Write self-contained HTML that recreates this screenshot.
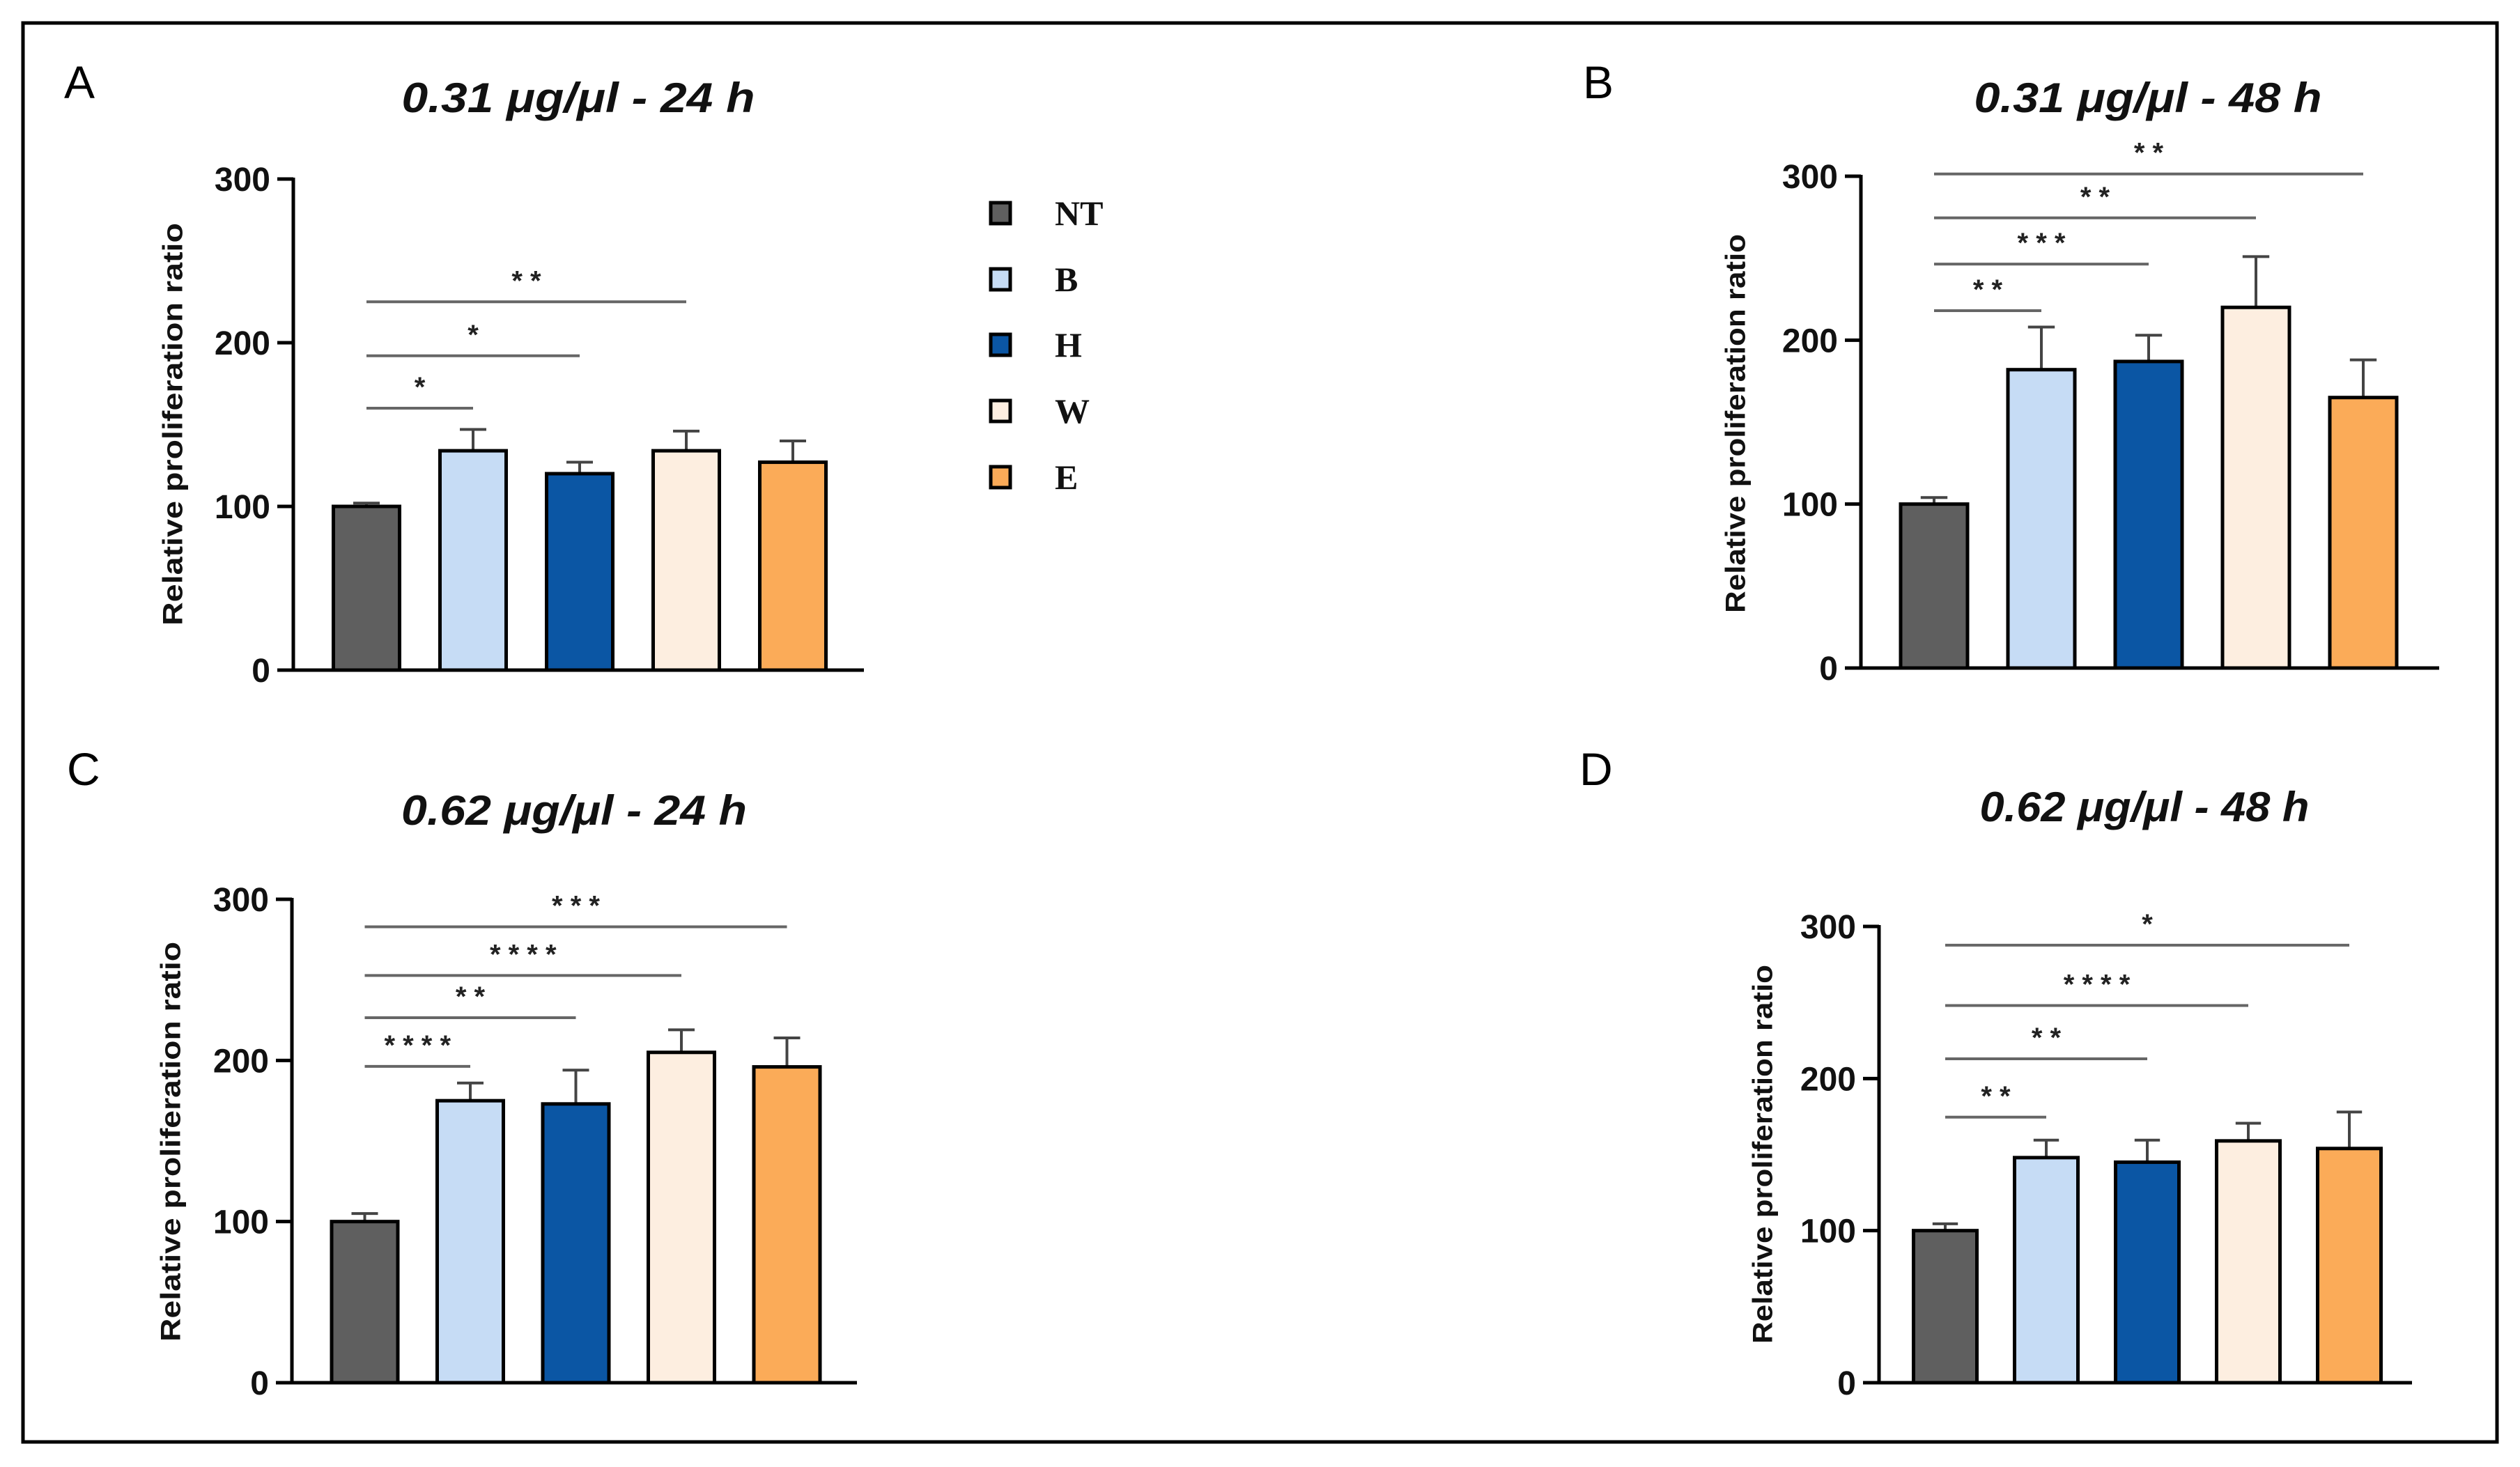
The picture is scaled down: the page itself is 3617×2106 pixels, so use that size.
<!DOCTYPE html>
<html><head><meta charset="utf-8"><style>
html,body{margin:0;padding:0;background:#fff;}
svg{display:block;}
</style></head><body>
<svg id="fig" xmlns="http://www.w3.org/2000/svg" width="3617" height="2106" viewBox="0 0 3617 2106">
<rect x="33" y="33" width="3551" height="2037" fill="#fff" stroke="#000" stroke-width="5"/>
<g id="legend"></g>
</svg>
<script>
const categories = ["NT","B","H","W","E"];
const colors = ["#5f5f5f","#c6dcf5","#0b56a4","#fdeee0","#fbab58"];
const yTicks = [0,100,200,300];
const valuesA = [100,134,120,134,127];
const errA = [102,147,127,146,140];
const valuesB = [100,182,187,220,165];
const errB = [104,208,203,251,188];
const valuesC = [100,175,173,205,196];
const errC = [105,186,194,219,214];
const valuesD = [100,148,145,159,154];
const errD = [104.5,159.5,159.5,170.6,178];
const sigA = [160,192,225];
const sigTargetsA = [1,2,3];
const sigLabelsA = ["*","*","* *"];
const sigB = [218,246.4,274.6,301.4];
const sigTargetsB = [1,2,3,4];
const sigLabelsB = ["* *","* * *","* *","* *"];
const sigC = [196.3,226.5,252.7,282.9];
const sigTargetsC = [1,2,3,4];
const sigLabelsC = ["* * * *","* *","* * * *","* * *"];
const sigD = [174.6,213,248,287.7];
const sigTargetsD = [1,2,3,4];
const sigLabelsD = ["* *","* *","* * * *","*"];

const NS="http://www.w3.org/2000/svg";
const svg=document.getElementById('fig');
function mk(tag,attrs,parent){const e=document.createElementNS(NS,tag);for(const k in attrs)e.setAttribute(k,attrs[k]);(parent||svg).appendChild(e);return e;}

function panel(p){
  const g=mk('g',{});
  
  
  const y=v=>p.bottom-(v/300)*(p.bottom-p.top);
  const xc=i=>p.c0+i*p.step;
  // letter
  const L=mk('text',{x:p.lx,y:p.ly,'font-family':'Liberation Sans, sans-serif','font-size':66,fill:'#000'},g);
  L.textContent=p.id;
  
  
  const T=mk('text',{x:p.tx,y:p.ty,'text-anchor':'middle','font-family':'Liberation Sans, sans-serif','font-size':60,'font-weight':'bold','font-style':'italic',textLength:p.tl,lengthAdjust:'spacingAndGlyphs',fill:'#111'},g);
  T.textContent=p.title;
  
  
  const YT=mk('text',{x:0,y:0,transform:`translate(${p.ax},${p.ay}) rotate(-90)`,'text-anchor':'middle','dominant-baseline':'middle','font-family':'Liberation Sans, sans-serif','font-size':40,'font-weight':'bold',textLength:p.al,lengthAdjust:'spacingAndGlyphs',fill:'#111'},g);
  YT.textContent='Relative proliferation ratio';
  
  
  // bars
  p.vals.forEach((v,i)=>{
    const cx=xc(i);
    const el=mk('line',{x1:cx,x2:cx,y1:y(v),y2:y(p.err[i]),stroke:'#444','stroke-width':4},g);
    
    
    const cap=mk('line',{x1:cx-p.w*0.2,x2:cx+p.w*0.2,y1:y(p.err[i]),y2:y(p.err[i]),stroke:'#444','stroke-width':4},g);
    
    
    const b=mk('rect',{x:cx-p.w/2,y:y(v),width:p.w,height:y(0)-y(v),fill:colors[i],stroke:'#000','stroke-width':5},g);
    
    
  });
  // axes
  const ya=mk('line',{x1:p.axisX,x2:p.axisX,y1:p.top-2,y2:p.bottom+2,stroke:'#000','stroke-width':5},g);
  
  
  const xa=mk('line',{x1:p.axisX-23,x2:p.end,y1:p.bottom,y2:p.bottom,stroke:'#000','stroke-width':5},g);
  
  
  yTicks.forEach(t=>{
    const tk=mk('line',{x1:p.axisX-23,x2:p.axisX,y1:y(t),y2:y(t),stroke:'#000','stroke-width':5},g);
    
    
    const tl=mk('text',{x:p.axisX-33,y:y(t)+17,'text-anchor':'end','font-family':'Liberation Sans Narrow, Liberation Sans, sans-serif','font-size':48,'font-weight':'bold',fill:'#111'},g);
    tl.textContent=String(t);
    
    
  });
  // significance
  p.sig.forEach((s,k)=>{
    const x1=xc(0), x2=xc(p.tg[k]);
    const ln=mk('line',{x1:x1,x2:x2,y1:y(s),y2:y(s),stroke:'#666','stroke-width':4},g);
    
    
    const st=mk('text',{x:(x1+x2)/2,y:y(s)-17,'text-anchor':'middle','font-family':'Liberation Sans, sans-serif','font-size':40,'font-weight':'bold',fill:'#222'},g);
    st.textContent=p.sl[k];
    
    
  });
}
panel({id:'A',title:'0.31 μg/μl - 24 h',tx:830,ty:161,tl:507,lx:92,ly:141,ax:251,ay:609,al:578,axisX:421,top:257,bottom:962,c0:526,step:153,w:95,end:1240,vals:valuesA,err:errA,sig:sigA,tg:sigTargetsA,sl:sigLabelsA});
panel({id:'B',title:'0.31 μg/μl - 48 h',tx:3083,ty:161,tl:499,lx:2272,ly:141,ax:2494,ay:608,al:544,axisX:2671,top:253,bottom:959,c0:2776,step:154,w:96,end:3501,vals:valuesB,err:errB,sig:sigB,tg:sigTargetsB,sl:sigLabelsB});
panel({id:'C',title:'0.62 μg/μl - 24 h',tx:824,ty:1184,tl:496,lx:96,ly:1127,ax:248,ay:1639,al:574,axisX:419,top:1291,bottom:1985,c0:523.5,step:151.5,w:95,end:1230,vals:valuesC,err:errC,sig:sigC,tg:sigTargetsC,sl:sigLabelsC});
panel({id:'D',title:'0.62 μg/μl - 48 h',tx:3078,ty:1179,tl:473,lx:2267,ly:1127,ax:2533,ay:1657,al:544,axisX:2697,top:1330,bottom:1985,c0:2792,step:145,w:91,end:3462,vals:valuesD,err:errD,sig:sigD,tg:sigTargetsD,sl:sigLabelsD});

// legend
const lg=document.getElementById('legend');
const legendY=[306,401,495,590,685];
categories.forEach((c,i)=>{
  const sq=mk('rect',{x:1422,y:legendY[i]-15,width:28,height:30,fill:colors[i],stroke:'#000','stroke-width':5},lg);
  
  
  const t=mk('text',{x:1514,y:legendY[i]+17,'font-family':'Liberation Serif, serif','font-size':50,'font-weight':'bold',fill:'#111'},lg);
  t.textContent=c;
  
  
});
</script>
</body></html>
